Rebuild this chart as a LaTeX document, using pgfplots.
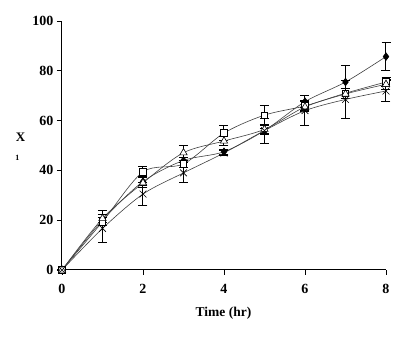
\documentclass[border=0pt]{standalone}
\usepackage{fontspec}
\setmainfont{Liberation Serif}
\usepackage{pgfplots}
\pgfplotsset{compat=1.18}
\begin{document}
\begin{tikzpicture}
\begin{axis}[
  scale only axis,
  width=324pt, height=249pt,
  xmin=0, xmax=8, ymin=0, ymax=100,
  axis lines*=left,
  axis line style={-, line width=1pt},
  every outer x axis line/.append style={-},
  every outer y axis line/.append style={-},
  xtick={0,2,4,6,8}, ytick={0,20,40,60,80,100},
  tick align=outside, major tick length=5pt,
  tick style={black, line width=0.8pt},
  /pgf/number format/assume math mode=true,
  ticklabel style={font=\fontsize{14}{16}\selectfont\bfseries},
  xticklabel style={yshift=-6pt},
  clip=false,
  every axis plot/.append style={
    smooth, tension=0.5, black!75, line width=0.6pt,
    error bars/y dir=both, error bars/y explicit,
    error bars/error bar style={black, line width=1pt},
    error bars/error mark options={rotate=90, mark size=4.5pt, black, line width=1pt},
  },
]
% filled diamond
\addplot[mark=diamond*, mark size=3.8pt, mark options={black, fill=black, solid}]
 table[x=x, y=y, y error=e]{
x y e
0 0 0
1 20 1
2 35.5 1.5
3 44 1
4 47.5 1
5 56 1
6 67.6 2.5
7 75.5 6.8
8 85.7 5.7
};
% open square
\addplot[mark=square*, mark size=3.3pt, mark options={black, fill=white, solid}]
 table[x=x, y=y, y error=e]{
x y e
0 0 0
1 19.4 1.5
2 39.4 2
3 42.6 1.5
4 55 3
5 62.2 4
6 65.9 2
7 71 2
8 75.5 2
};
% open triangle
\addplot[mark=triangle*, mark size=4.2pt, mark options={black, fill=white, solid}]
 table[x=x, y=y, y error=e]{
x y e
0 0 0
1 20.7 3
2 35 2
3 47.1 3
4 51.8 2
5 56.5 2
6 65.5 2
7 70.7 2
8 74.6 2
};
% x marks
\addplot[mark=x, mark size=4.8pt, mark options={black, solid, line width=0.6pt}]
 table[x=x, y=y, y error=e]{
x y e
0 0 0
1 16.7 5.5
2 30.5 4.5
3 39 4
4 47 1
5 56 5
6 64 6
7 68.5 7.6
8 71.9 4.3
};
\node[font=\fontsize{13.5}{15}\selectfont\bfseries] at (rel axis cs:0.4985,0) [yshift=-43pt] {Time (hr)};
\node[font=\fontsize{13}{14}\selectfont\bfseries] at (rel axis cs:-0.128,0.534) {X};
\node[font=\fontsize{8}{9}\selectfont\bfseries] at (rel axis cs:-0.138,0.451) {1};
\end{axis}
\path ([shift={(-62pt,-67pt)}]current axis.south west) rectangle ([shift={(27pt,21pt)}]current axis.north east);
\end{tikzpicture}
\end{document}
